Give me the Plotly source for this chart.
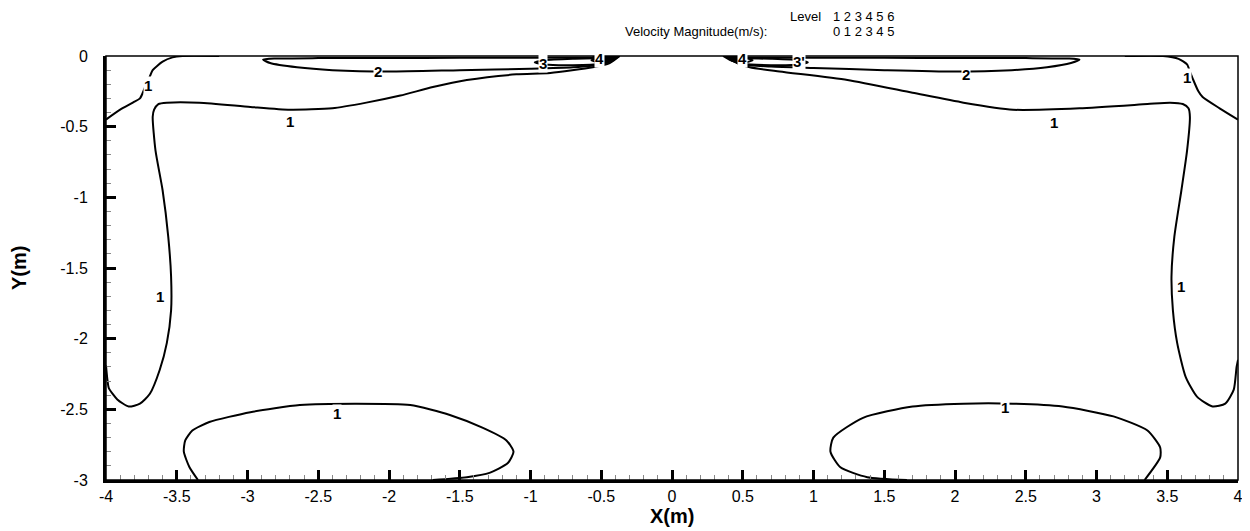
import plotly.graph_objects as go

# ---------------- data (in metres) ----------------
x_ticks = [-4, -3.5, -3, -2.5, -2, -1.5, -1, -0.5, 0, 0.5, 1, 1.5, 2, 2.5, 3, 3.5, 4]
x_tick_labels = ["-4", "-3.5", "-3", "-2.5", "-2", "-1.5", "-1", "-0.5", "0",
                 "0.5", "1", "1.5", "2", "2.5", "3", "3.5", "4"]
y_ticks = [0, -0.5, -1, -1.5, -2, -2.5, -3]
y_tick_labels = ["0", "-0.5", "-1", "-1.5", "-2", "-2.5", "-3"]

# level 1 contour, left big loop (left wall -> top centre)
c1_left_x = [-4.0, -3.99, -3.98, -3.92, -3.84, -3.76, -3.69, -3.62, -3.57, -3.54, -3.54,
             -3.56, -3.60, -3.65, -3.67, -3.66, -3.63, -3.57, -3.34, -2.98, -2.70, -2.40,
             -2.16, -1.92, -1.69, -1.45, -1.10, -0.86, -0.56, -0.44, -0.37]
c1_left_y = [-2.19, -2.29, -2.35, -2.43, -2.48, -2.46, -2.39, -2.22, -2.03, -1.80, -1.56,
             -1.28, -0.95, -0.67, -0.43, -0.38, -0.34, -0.33, -0.33, -0.36, -0.38, -0.37,
             -0.33, -0.28, -0.22, -0.17, -0.13, -0.12, -0.08, -0.05, 0.0]
# level 1 contour, right big loop (top centre -> right wall)
c1_right_x = [0.39, 0.46, 0.55, 0.76, 1.24, 1.70, 2.06, 2.41, 2.88, 3.36, 3.52, 3.61, 3.65,
              3.66, 3.64, 3.60, 3.55, 3.53, 3.54, 3.57, 3.63, 3.71, 3.82, 3.91, 3.97, 3.99, 4.0]
c1_right_y = [0.0, -0.05, -0.08, -0.11, -0.17, -0.26, -0.33, -0.38, -0.37, -0.34, -0.33, -0.34,
              -0.37, -0.43, -0.67, -0.95, -1.28, -1.56, -1.80, -2.03, -2.27, -2.41, -2.48,
              -2.46, -2.36, -2.20, -2.15]
# level 1 contour, upper corners
c1_corner_l_x = [-4.0, -3.90, -3.81, -3.76, -3.74, -3.72, -3.70, -3.67, -3.60, -3.53, -3.46, -3.2]
c1_corner_l_y = [-0.45, -0.38, -0.33, -0.30, -0.26, -0.21, -0.17, -0.10, -0.04, -0.01, 0.0, 0.0]
c1_corner_r_x = [3.2, 3.47, 3.58, 3.64, 3.66, 3.68, 3.72, 3.75, 3.87, 4.0]
c1_corner_r_y = [0.0, 0.0, -0.02, -0.06, -0.11, -0.16, -0.25, -0.29, -0.37, -0.45]
# level 1 contour, bottom loops
c1_bot_l_x = [-3.35, -3.41, -3.45, -3.44, -3.39, -3.27, -2.98, -2.63, -2.23, -1.85, -1.57,
              -1.34, -1.17, -1.12, -1.16, -1.29, -1.45, -1.69]
c1_bot_l_y = [-3.0, -2.91, -2.80, -2.72, -2.65, -2.59, -2.52, -2.47, -2.46, -2.47, -2.54,
              -2.63, -2.72, -2.80, -2.88, -2.95, -2.98, -3.0]
c1_bot_r_x = [1.66, 1.38, 1.19, 1.12, 1.14, 1.35, 1.70, 2.06, 2.41, 2.76, 3.12, 3.36, 3.45, 3.45, 3.34]
c1_bot_r_y = [-3.0, -2.98, -2.91, -2.80, -2.70, -2.56, -2.48, -2.46, -2.46, -2.48, -2.55,
              -2.65, -2.77, -2.84, -3.0]
# level 2 contours
c2_left_x = [-0.42, -1.0, -1.5, -2.0, -2.5, -2.80, -2.89, -2.84, -2.65, -2.40, -2.0, -1.5,
             -1.0, -0.7, -0.5, -0.42]
c2_left_y = [-0.01, -0.012, -0.013, -0.014, -0.015, -0.018, -0.025, -0.05, -0.08, -0.10,
             -0.11, -0.10, -0.09, -0.08, -0.06, -0.03]
c2_right_x = [0.42, 1.0, 1.5, 2.0, 2.5, 2.80, 2.88, 2.82, 2.65, 2.40, 2.0, 1.5, 1.0, 0.7, 0.5, 0.42]
c2_right_y = [-0.01, -0.012, -0.013, -0.014, -0.015, -0.018, -0.025, -0.05, -0.08, -0.10,
              -0.11, -0.10, -0.085, -0.075, -0.06, -0.03]
# level 3 contours
c3_left_x = [-0.45, -0.7, -0.9, -0.97, -0.9, -0.7, -0.5, -0.45]
c3_left_y = [-0.015, -0.02, -0.03, -0.045, -0.06, -0.065, -0.055, -0.04]
c3_right_x = [0.45, 0.7, 0.9, 0.96, 0.9, 0.7, 0.5, 0.45]
c3_right_y = [-0.015, -0.02, -0.03, -0.045, -0.06, -0.065, -0.055, -0.04]
# level 4 contours
c4_left_x = [-0.42, -0.52, -0.57, -0.52, -0.45, -0.42]
c4_left_y = [-0.01, -0.015, -0.03, -0.045, -0.04, -0.03]
c4_right_x = [0.42, 0.52, 0.57, 0.52, 0.45, 0.42]
c4_right_y = [-0.01, -0.015, -0.03, -0.045, -0.04, -0.03]
# levels 5-6 (dense core near the jets)
c5_left_x = [-0.56, -0.37, -0.42, -0.47, -0.53, -0.56]
c5_left_y = [0.0, 0.0, -0.03, -0.05, -0.03, 0.0]
c5_right_x = [0.36, 0.53, 0.51, 0.47, 0.41, 0.36]
c5_right_y = [0.0, 0.0, -0.03, -0.05, -0.03, 0.0]

# contour labels
label_text = ["1", "1", "1", "1", "2", "3", "4", "4", "3'", "2", "1", "1", "1", "1"]
label_x = [-3.70, -2.70, -3.62, -2.37, -2.08, -0.91, -0.51, 0.50, 0.90, 2.08, 2.70, 3.64, 3.60, 2.35]
label_y = [-0.21, -0.46, -1.70, -2.53, -0.11, -0.05, -0.015, -0.015, -0.04, -0.13, -0.47, -0.15, -1.63, -2.49]

level_numbers = "1 2 3 4 5 6"
level_values = "0 1 2 3 4 5"

# ---------------- figure ----------------
# the page body adds an 8 px offset, so the figure is 8 px smaller and
# all pixel positions below are given in page pixels minus that offset
OFF = 8
W, H = 1250 - OFF, 531 - OFF
ML, MT = 106 - OFF, 56 - OFF
MR = 12
MB = H - (480 - OFF)
PW, PH = W - ML - MR, H - MT - MB


def px_to_paper(px, py):
    """page pixel -> paper coordinate"""
    return (px - OFF - ML) / PW, 1 - (py - OFF - MT) / PH


fig = go.Figure()
lines = [
    (c1_left_x, c1_left_y), (c1_right_x, c1_right_y),
    (c1_corner_l_x, c1_corner_l_y), (c1_corner_r_x, c1_corner_r_y),
    (c1_bot_l_x, c1_bot_l_y), (c1_bot_r_x, c1_bot_r_y),
    (c2_left_x, c2_left_y), (c2_right_x, c2_right_y),
    (c3_left_x, c3_left_y), (c3_right_x, c3_right_y),
    (c4_left_x, c4_left_y), (c4_right_x, c4_right_y),
]
for lx, ly in lines:
    fig.add_trace(go.Scatter(x=lx, y=ly, mode="lines",
                             line=dict(color="black", width=2, shape="spline", smoothing=0.6),
                             hoverinfo="skip", showlegend=False))
for lx, ly in [(c5_left_x, c5_left_y), (c5_right_x, c5_right_y)]:
    fig.add_trace(go.Scatter(x=lx, y=ly, mode="lines", fill="toself", fillcolor="black",
                             line=dict(color="black", width=1.5),
                             hoverinfo="skip", showlegend=False))

for t, lx, ly in zip(label_text, label_x, label_y):
    fig.add_annotation(x=lx, y=ly, xref="x", yref="y", text="<b>%s</b>" % t, showarrow=False,
                       font=dict(family="Liberation Sans, Arial", size=15, color="black"),
                       bgcolor="white", borderpad=0)

tickfont = dict(family="Liberation Sans, Arial", size=16, color="black")
common = dict(showline=True, linecolor="black", linewidth=3,
              ticks="inside", ticklen=10, tickwidth=3, tickcolor="black",
              tickmode="array", tickfont=tickfont, automargin=False,
              showgrid=False, zeroline=False, mirror=False,
              minor=dict(tickmode="linear", tick0=0, dtick=0.1, ticks="inside", ticklen=5,
                         tickwidth=1, tickcolor="#888888", showgrid=False))
fig.update_xaxes(range=[-4, 4], tickvals=x_ticks, ticktext=x_tick_labels, **common)
fig.update_yaxes(range=[-3, 0], tickvals=y_ticks, ticktext=y_tick_labels,
                 ticklabelstandoff=12, **common)

fig.add_shape(type="rect", xref="paper", yref="paper", x0=0, y0=0, x1=1, y1=1,
              line=dict(color="black", width=1.5), layer="above")

title_font = dict(family="Liberation Sans, Arial", size=20, color="black")
tx, ty = px_to_paper(672, 516)
fig.add_annotation(xref="paper", yref="paper", x=tx, y=ty, xanchor="center", yanchor="middle",
                   text="<b>X(m)</b>", showarrow=False, font=title_font)
tx, ty = px_to_paper(19, 268)
fig.add_annotation(xref="paper", yref="paper", x=tx, y=ty, xanchor="center", yanchor="middle",
                   text="<b>Y(m)</b>", showarrow=False, font=title_font, textangle=-90)

hdr_font = dict(family="Liberation Sans, Arial", size=13, color="black")
for txt, pxx, pyy, anchor in [("Level", 822, 16, "right"), (level_numbers, 832, 16, "left"),
                              ("Velocity Magnitude(m/s):", 768, 31, "right"),
                              (level_values, 832, 31, "left")]:
    ax_, ay_ = px_to_paper(pxx, pyy)
    fig.add_annotation(xref="paper", yref="paper", x=ax_, y=ay_, xanchor=anchor, yanchor="middle",
                       text=txt, showarrow=False, font=hdr_font, borderpad=0)

fig.update_layout(width=W, height=H, margin=dict(l=ML, r=MR, t=MT, b=MB, autoexpand=False),
                  paper_bgcolor="white", plot_bgcolor="white", showlegend=False)

fig.write_html("out.html")
